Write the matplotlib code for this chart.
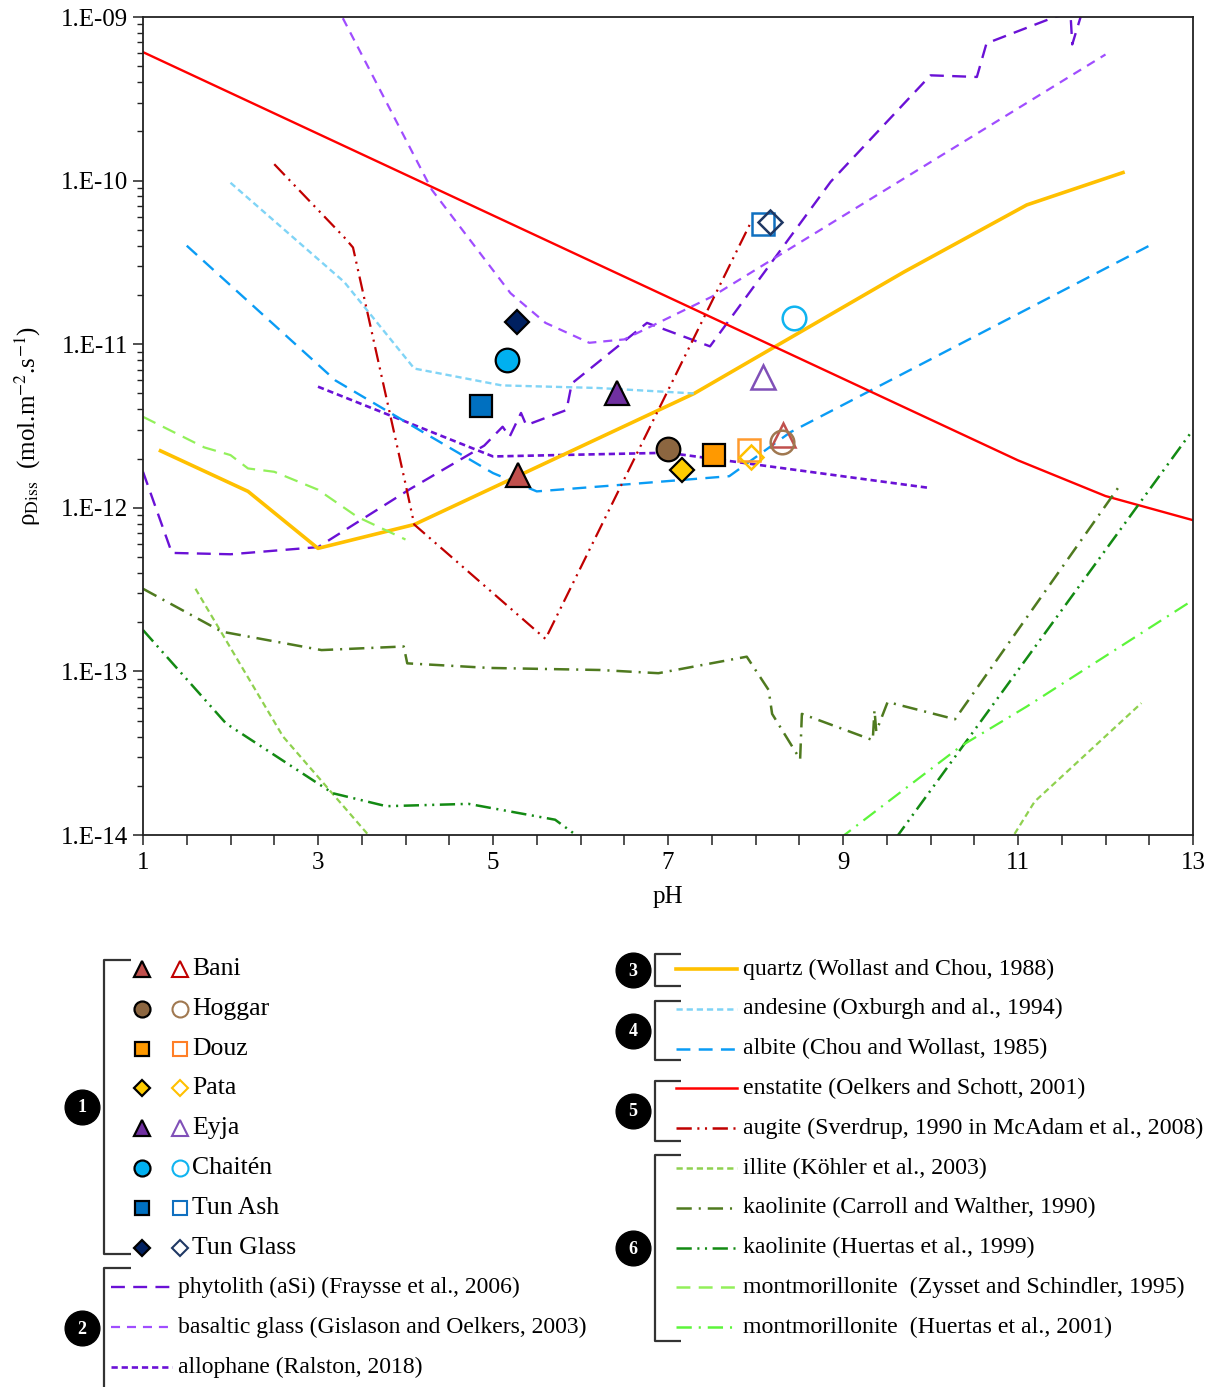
import numpy as np
import matplotlib.pyplot as plt

plt.rcParams['font.family'] = ['Liberation Serif', 'DejaVu Serif']
plt.rcParams['mathtext.fontset'] = 'stix'
plt.rcParams['lines.scale_dashes'] = False

# ---- reference dissolution rates (pH, rate in mol.m-2.s-1) ----
phyto_ph = [1.0, 1.33, 2.0, 3.0, 4.05, 4.9, 5.11, 5.19, 5.32, 5.38, 5.84, 5.9, 6.76, 7.48,
            8.86, 10.0, 10.53, 10.64, 11.42, 11.6, 11.62, 11.75]
phyto_r = [1.66e-12, 5.3e-13, 5.2e-13, 5.75e-13, 1.3e-12, 2.4e-12, 3.13e-12, 2.72e-12, 3.8e-12,
           3.2e-12, 3.96e-12, 5.75e-12, 1.35e-11, 9.7e-12, 9.85e-11, 4.4e-10, 4.3e-10,
           6.9e-10, 1.0e-09, 1.05e-09, 6.8e-10, 1.15e-09]

basglass_ph = [3.2, 4.3, 5.2, 5.6, 6.1, 6.5, 7.5, 12.0]
basglass_r = [1.2e-09, 8.8e-11, 2.05e-11, 1.35e-11, 1.02e-11, 1.07e-11, 1.95e-11, 5.9e-10]

allo_ph = [3.0, 5.0, 7.0, 7.9, 10.0]
allo_r = [5.5e-12, 2.06e-12, 2.17e-12, 1.87e-12, 1.32e-12]

quartz_ph = [1.2, 2.2, 3.0, 4.1, 7.3, 9.7, 11.1, 12.2]
quartz_r = [2.23e-12, 1.26e-12, 5.65e-13, 7.9e-13, 5.0e-12, 2.77e-11, 7.1e-11, 1.12e-10]

andes_ph = [2.0, 3.3, 4.1, 5.1, 6.2, 7.3]
andes_r = [9.7e-11, 2.4e-11, 7.1e-12, 5.6e-12, 5.4e-12, 5.0e-12]

albite_ph = [1.5, 3.2, 4.2, 5.0, 5.5, 6.3, 7.7, 8.4, 12.5]
albite_r = [4.0e-11, 6.0e-12, 2.9e-12, 1.63e-12, 1.26e-12, 1.36e-12, 1.56e-12, 2.9e-12, 4.0e-11]

enst_ph = [1.0, 11.0, 12.0, 13.0]
enst_r = [6.1e-10, 1.95e-12, 1.18e-12, 8.4e-13]

augite_ph = [2.5, 3.3, 3.4, 4.0, 4.1, 5.6, 7.95]
augite_r = [1.26e-10, 4.5e-11, 3.9e-11, 1.4e-12, 7.9e-13, 1.58e-13, 5.6e-11]

illite_ph = [1.6, 2.6, 3.65, np.nan, 10.9, 11.19, 12.41]
illite_r = [3.2e-13, 4.0e-14, 9.0e-15, np.nan, 9.0e-15, 1.6e-14, 6.4e-14]

kaoc_ph = [1.0, 1.9, 3.04, 3.98, 4.02, 4.96, 6.22, 6.89, 7.9, 8.15, 8.19, 8.51, 8.53,
           9.34, 9.36, 9.38, 9.51, 10.28, 12.18]
kaoc_r = [3.2e-13, 1.75e-13, 1.35e-13, 1.42e-13, 1.12e-13, 1.05e-13, 1.02e-13, 9.75e-14,
          1.23e-13, 7.7e-14, 5.5e-14, 2.9e-14, 5.5e-14, 3.8e-14, 5.8e-14, 4.3e-14,
          6.5e-14, 5.1e-14, 1.41e-12]

kaoh_ph = [1.0, 1.95, 3.17, 3.78, 4.72, 5.71, 5.97, 6.1, np.nan, 9.6, 13.0]
kaoh_r = [1.79e-13, 4.8e-14, 1.8e-14, 1.5e-14, 1.55e-14, 1.24e-14, 9.8e-15, 9.0e-15, np.nan,
          9.5e-15, 3.0e-12]

montz_ph = [1.0, 1.7, 2.0, 2.2, 2.5, 3.0, 3.45, 4.0]
montz_r = [3.6e-12, 2.34e-12, 2.1e-12, 1.74e-12, 1.66e-12, 1.29e-12, 8.8e-13, 6.4e-13]

month_ph = [8.95, 10.35, 11.1, 13.0]
month_r = [9.4e-15, 3.5e-14, 6.1e-14, 2.73e-13]

# ---- tephra samples: filled = first value, open = second value ----
samples = ['Bani', 'Hoggar', 'Douz', 'Pata', 'Eyja', 'Chaitén', 'Tun Ash', 'Tun Glass']
ph_filled = [5.29, 7.0, 7.52, 7.16, 6.42, 5.16, 4.86, 5.27]
r_filled = [1.58e-12, 2.28e-12, 2.1e-12, 1.7e-12, 5.0e-12, 8.0e-12, 4.2e-12, 1.37e-11]
ph_open = [8.31, 8.30, 7.93, 7.95, 8.09, 8.44, 8.08, 8.16]
r_open = [2.8e-12, 2.54e-12, 2.25e-12, 2.05e-12, 6.3e-12, 1.45e-11, 5.4e-11, 5.6e-11]

mk = ['^', 'o', 's', 'D', '^', 'o', 's', 'D']
ms_plot = {'^': 17.5, 'o': 17, 's': 15.5, 'D': 12.5}
ms_leg = {'^': 11.5, 'o': 11.5, 's': 10.5, 'D': 8.5}
fill_col = ['#c0504d', '#8c6640', '#ff9900', '#ffcc00', '#7030a0', '#00b0f0', '#0070c0', '#002060']
open_col = ['#c0504d', '#a07850', '#ff9a2e', '#ffc000', '#8050b8', '#10b4f0', '#1070c0', '#1f3864']
open_col_leg = ['#c00000', '#a07850', '#ff7f27', '#ffc000', '#8050b8', '#10b4f0', '#1070c0', '#1f3864']

LONG = (0, (10, 6))
MED = (0, (6.5, 5))
SHORT = (0, (4.5, 2.8))
DASHDOT = (0, (11, 5, 1.5, 5))
DASHDOTDOT = (0, (11, 4, 1.5, 4, 1.5, 4))

curves = [
    # (ph, r, colour, style, width, label)
    (phyto_ph, phyto_r, '#6a11d6', LONG, 1.7, 'phytolith (aSi) (Fraysse et al., 2006)'),
    (basglass_ph, basglass_r, '#a04dff', MED, 1.6, 'basaltic glass (Gislason and Oelkers, 2003)'),
    (allo_ph, allo_r, '#6a11d6', SHORT, 1.9, 'allophane (Ralston, 2018)'),
    (quartz_ph, quartz_r, '#ffc000', '-', 2.6, 'quartz (Wollast and Chou, 1988)'),
    (andes_ph, andes_r, '#80d4f6', SHORT, 1.7, 'andesine (Oxburgh and al., 1994)'),
    (albite_ph, albite_r, '#0a9cf5', LONG, 1.7, 'albite (Chou and Wollast, 1985)'),
    (enst_ph, enst_r, '#ff0000', '-', 1.7, 'enstatite (Oelkers and Schott, 2001)'),
    (augite_ph, augite_r, '#c00000', DASHDOTDOT, 1.6, 'augite (Sverdrup, 1990 in McAdam et al., 2008)'),
    (illite_ph, illite_r, '#8fd14f', SHORT, 1.6, 'illite (Köhler et al., 2003)'),
    (kaoc_ph, kaoc_r, '#4f7a1f', DASHDOT, 1.8, 'kaolinite (Carroll and Walther, 1990)'),
    (kaoh_ph, kaoh_r, '#138a13', DASHDOTDOT, 1.8, 'kaolinite (Huertas et al., 1999)'),
    (montz_ph, montz_r, '#92f05a', LONG, 1.6, 'montmorillonite  (Zysset and Schindler, 1995)'),
    (month_ph, month_r, '#5cf53a', DASHDOT, 1.6, 'montmorillonite  (Huertas et al., 2001)'),
]

fig = plt.figure(figsize=(12.15, 13.87), dpi=100)
ax = fig.add_axes([143 / 1215, 1 - 835 / 1387, 1050 / 1215, 818 / 1387])

for ph, r, c, ls, lw, lab in curves:
    ax.plot(ph, r, color=c, linestyle=ls, lw=lw, zorder=2)

for i in range(len(samples)):
    ax.plot(ph_open[i], r_open[i], marker=mk[i], ms=ms_plot[mk[i]], mfc='none',
            mec=open_col[i], mew=1.8, ls='none', zorder=3)
for i in range(len(samples)):
    ax.plot(ph_filled[i], r_filled[i], marker=mk[i], ms=ms_plot[mk[i]], mfc=fill_col[i],
            mec='black', mew=1.6, ls='none', zorder=4)

ax.set_yscale('log')
ax.set_ylim(1e-14, 1e-9)
ax.set_xlim(1, 13)
ydec = [1e-14, 1e-13, 1e-12, 1e-11, 1e-10, 1e-9]
ax.set_yticks(ydec)
ax.set_yticklabels(['1.E-%02d' % round(-np.log10(v)) for v in ydec])
ax.yaxis.set_minor_locator(plt.matplotlib.ticker.LogLocator(base=10, subs=np.arange(2, 10)))
ax.yaxis.set_minor_formatter(plt.NullFormatter())
xt = np.arange(1, 13.01, 0.5)
ax.set_xticks(xt)
ax.set_xticklabels(['%d' % v if (v % 2 == 1) else '' for v in xt])
ax.tick_params(axis='both', which='major', direction='out', length=7, width=1.1,
               labelsize=18, colors='#222222', labelcolor='black')
ax.tick_params(axis='y', which='minor', direction='out', length=4.5, width=1.0, colors='#222222')
ax.tick_params(axis='x', which='major', pad=5)
for s in ax.spines.values():
    s.set_linewidth(1.3)
    s.set_color('#222222')
ax.set_xlabel('pH', fontsize=18, labelpad=9)
ax.set_ylabel('ρ$_{\\mathrm{Diss}}$  (mol.m$^{\\mathrm{-2}}$.s$^{\\mathrm{-1}}$)', fontsize=18,
              labelpad=13)

# ---- legend drawn in figure pixel space ----
lg = fig.add_axes([0, 0, 1, 1])
lg.set_xlim(0, 1215)
lg.set_ylim(1387, 0)
lg.axis('off')

row0 = 969
dy = 39.8
brk = dict(color='#333333', lw=1.6, solid_capstyle='butt')


def badge(x, y, n):
    lg.plot(x, y, 'o', ms=25, color='black', zorder=5)
    lg.text(x, y + 1, str(n), color='white', fontsize=13, fontweight='bold',
            ha='center', va='center', zorder=6)


# group 1: samples
lg.plot([131, 104, 104, 131], [960, 960, 1254, 1254], **brk)
badge(82, 1107, 1)
for i, name in enumerate(samples):
    y = row0 + i * dy
    lg.plot(142, y, marker=mk[i], ms=ms_leg[mk[i]], mfc=fill_col[i], mec='black', mew=1.6)
    lg.plot(180, y, marker=mk[i], ms=ms_leg[mk[i]], mfc='none', mec=open_col_leg[i], mew=1.5)
    lg.text(192, y, name, fontsize=18.5, va='center', ha='left')

# group 2: silica-rich glasses
lg.plot([131, 104, 104], [1268, 1268, 1400], **brk)
badge(82, 1328, 2)
for k in range(3):
    ph, r, c, ls, lw, lab = curves[k]
    y = row0 + (8 + k) * dy
    lg.plot([111, 172], [y, y], color=c, linestyle=ls, lw=lw)
    lg.text(178, y, lab, fontsize=17, va='center', ha='left')

# groups 3-6 on the right
groups = [(3, 954, 986, [3]), (4, 1001, 1060, [4, 5]), (5, 1081, 1141, [6, 7]),
          (6, 1155, 1341, [8, 9, 10, 11, 12])]
for n, y0, y1, idx in groups:
    lg.plot([681, 655, 655, 681], [y0, y0, y1, y1], **brk)
    badge(633, (y0 + y1) / 2, n)
    for k in idx:
        ph, r, c, ls, lw, lab = curves[k]
        y = row0 + (k - 3) * dy
        lg.plot([676, 737], [y, y], color=c, linestyle=ls, lw=max(lw, 1.8))
        lg.text(743, y, lab, fontsize=17.2, va='center', ha='left')

fig.savefig('out.png', dpi=100)
